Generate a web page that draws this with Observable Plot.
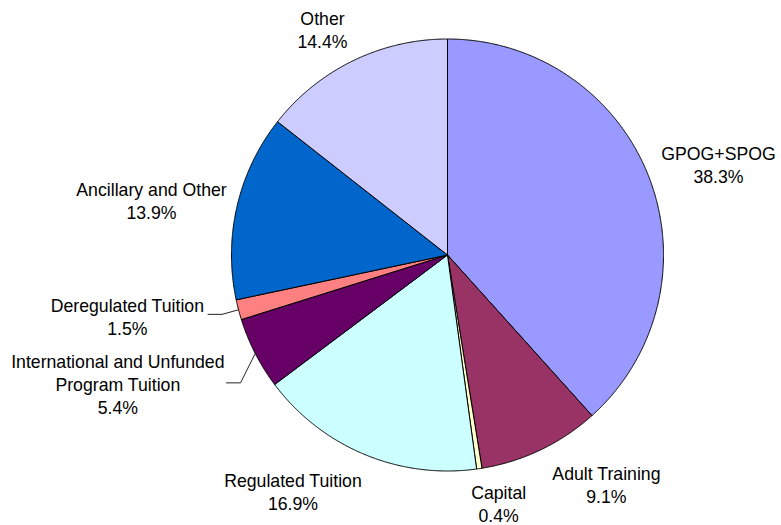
<!DOCTYPE html>
<html><head><meta charset="utf-8">
<script src="https://cdn.jsdelivr.net/npm/d3@7"></script>
<script src="https://cdn.jsdelivr.net/npm/@observablehq/plot@0.6"></script>
<style>
body{margin:0;background:#fff}
#chart svg{font-family:"Liberation Sans",Arial,sans-serif;display:block}
</style>
</head><body><div id="chart"></div>
<script>
// ---- data ----
const categories = ["GPOG+SPOG","Adult Training","Capital","Regulated Tuition","International and Unfunded\nProgram Tuition","Deregulated Tuition","Ancillary and Other","Other"];
const shares = [38.3, 9.1, 0.4, 16.9, 5.4, 1.5, 13.9, 14.4];
const colors = ["#9999FF","#993366","#FFFFCC","#CCFFFF","#660066","#FF8080","#0066CC","#CCCCFF"];

// ---- layout (pixels) ----
const W = 781, H = 525, CX = 447, CY = 254.5, R = 216, LABEL_R = 1.2;
// nudges of each label from its polar base point, in pixels
const labelNudge = [[29,2],[47,-5],[13,-8],[-54.5,-3],null,null,[-43.5,4],[-11.6,7.6]];
// leader lines: elbow offset from pie edge, horizontal length, label offset from line end
const leaderSpec = {4: {elbow:[-14.7,29.4], len:14, label:[-108.7,1.2]}, 5: {elbow:[-16.5,4.6], len:14, label:[-80.7,1.5]}};

const total = d3.sum(shares);
let cum = 0;
const slicePts = [], labels = [], leaders = [];
shares.forEach((v, i) => {
  const a0 = cum / total * 2 * Math.PI;
  cum += v;
  const a1 = cum / total * 2 * Math.PI;
  const name = categories[i];
  slicePts.push({name, color: colors[i], x: 0, y: 0});
  const n = Math.max(2, Math.ceil((a1 - a0) / (Math.PI / 720)));
  for (let k = 0; k <= n; k++) {
    const a = a0 + (a1 - a0) * k / n;
    slicePts.push({name, color: colors[i], x: Math.sin(a), y: Math.cos(a)});
  }
  slicePts.push({name, color: colors[i], x: 0, y: 0});
  const m = (a0 + a1) / 2;
  const text = name + "\n" + v.toFixed(1) + "%";
  if (leaderSpec[i]) {
    const s = leaderSpec[i];
    const ex = Math.sin(m), ey = Math.cos(m);
    const bx = ex + s.elbow[0] / R, by = ey - s.elbow[1] / R;
    const hx = bx - s.len / R, hy = by;
    leaders.push({id: i, x: ex, y: ey}, {id: i, x: bx, y: by}, {id: i, x: hx, y: hy});
    labels.push({text, x: hx + s.label[0] / R, y: hy - s.label[1] / R});
  } else {
    const [dx, dy] = labelNudge[i];
    labels.push({text, x: LABEL_R * Math.sin(m) + dx / R, y: LABEL_R * Math.cos(m) - dy / R});
  }
});

const chart = Plot.plot({
  width: W, height: H,
  margin: 0,
  x: {domain: [-1, 1], range: [CX - R, CX + R], axis: null},
  y: {domain: [-1, 1], range: [CY + R, CY - R], axis: null},
  color: {type: "identity"},
  marks: [
    Plot.line(slicePts, {x: "x", y: "y", z: "name", fill: "color", stroke: "#000", strokeWidth: 1, curve: "linear", strokeLinejoin: "round"}),
    Plot.line(leaders, {x: "x", y: "y", z: "id", stroke: "#222", strokeWidth: 1, curve: "linear"}),
    Plot.text(labels, {x: "x", y: "y", text: "text", fill: "#000", fontSize: 17.7, lineHeight: 1.3, lineAnchor: "middle", textAnchor: "middle"})
  ]
});
document.getElementById("chart").appendChild(chart);
</script>
</body></html>
